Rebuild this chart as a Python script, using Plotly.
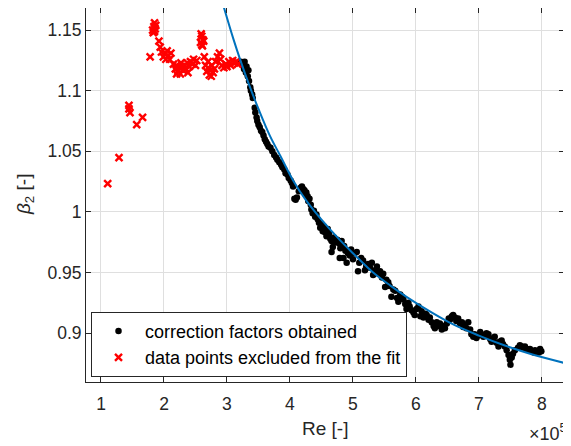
import plotly.graph_objects as go

# ---------------- data (Re in units of 1e5) ----------------
re_fit_pts = [3.22, 3.25, 3.27, 3.28, 3.30, 3.31, 3.33, 3.34, 3.35, 3.37, 3.38, 3.40, 3.41, 3.44, 3.45,
              3.47, 3.48, 3.50, 3.52, 3.54, 3.56, 3.58, 3.60, 3.62, 3.64, 3.66, 3.69, 3.72, 3.75, 3.78,
              3.80, 3.83, 3.86, 3.88, 3.91, 3.93, 3.96, 3.98, 4.01, 4.03, 4.05, 4.07, 4.09, 4.11, 4.14,
              4.17, 4.19, 4.21, 4.23, 4.24, 4.26, 4.28, 4.29, 4.31, 4.33, 4.34, 4.36, 4.38, 4.40, 4.42,
              4.44, 4.46, 4.48, 4.50, 4.52, 4.54, 4.56, 4.58, 4.60, 4.62, 4.64, 4.66, 4.66, 4.68, 4.70,
              4.72, 4.75, 4.78, 4.79, 4.80, 4.82, 4.85, 4.86, 4.88, 4.90, 4.92, 4.95, 4.97, 5.00, 5.03,
              5.06, 5.08, 5.10, 5.13, 5.16, 5.19, 5.21, 5.24, 5.27, 5.30, 5.32, 5.35, 5.38, 5.41, 5.43,
              5.46, 5.48, 5.51, 5.53, 5.56, 5.58, 5.61, 5.64, 5.67, 5.70, 5.72, 5.75, 5.78, 5.80, 5.83,
              5.85, 5.88, 5.90, 5.93, 5.96, 5.98, 6.01, 6.04, 6.07, 6.09, 6.12, 6.15, 6.17, 6.20, 6.22,
              6.25, 6.28, 6.30, 6.33, 6.36, 6.38, 6.41, 6.44, 6.46, 6.49, 6.52, 6.54, 6.57, 6.59, 6.62,
              6.64, 6.67, 6.70, 6.73, 6.75, 6.78, 6.80, 6.83, 6.86, 6.88, 6.91, 6.93, 6.96, 6.99, 7.02,
              7.04, 7.07, 7.10, 7.12, 7.15, 7.18, 7.20, 7.23, 7.25, 7.28, 7.31, 7.33, 7.36, 7.38, 7.41,
              7.44, 7.47, 7.49, 7.50, 7.52, 7.54, 7.57, 7.62, 7.65, 7.68, 7.71, 7.73, 7.76, 7.79, 7.81,
              7.84, 7.87, 7.89, 7.92, 7.95, 7.97, 7.99]
beta_fit_pts = [1.124, 1.122, 1.118, 1.124, 1.115, 1.120, 1.112, 1.117, 1.108, 1.103, 1.100, 1.097, 1.094, 1.086, 1.082,
                1.078, 1.075, 1.072, 1.070, 1.067, 1.066, 1.063, 1.060, 1.058, 1.056, 1.054, 1.053, 1.050, 1.047, 1.045,
                1.043, 1.041, 1.039, 1.037, 1.035, 1.032, 1.031, 1.028, 1.026, 1.024, 1.021, 1.011, 1.010, 1.012, 1.017,
                1.020, 1.021, 1.019, 1.018, 1.015, 1.016, 1.013, 1.009, 1.011, 1.006, 1.002, 0.999, 1.001, 0.996, 0.998,
                0.994, 0.991, 0.987, 0.990, 0.984, 0.988, 0.983, 0.980, 0.986, 0.982, 0.978, 0.976, 0.967, 0.971, 0.979,
                0.975, 0.977, 0.974, 0.962, 0.970, 0.976, 0.962, 0.972, 0.968, 0.958, 0.966, 0.964, 0.969, 0.961, 0.966,
                0.967, 0.951, 0.958, 0.962, 0.960, 0.952, 0.955, 0.957, 0.954, 0.958, 0.948, 0.952, 0.955, 0.949, 0.951,
                0.946, 0.949, 0.938, 0.944, 0.942, 0.939, 0.930, 0.936, 0.935, 0.929, 0.926, 0.932, 0.930, 0.928, 0.924,
                0.920, 0.925, 0.922, 0.919, 0.917, 0.915, 0.920, 0.922, 0.914, 0.918, 0.913, 0.916, 0.915, 0.911, 0.913,
                0.909, 0.906, 0.904, 0.909, 0.906, 0.908, 0.903, 0.906, 0.904, 0.908, 0.912, 0.911, 0.914, 0.915, 0.913,
                0.910, 0.912, 0.908, 0.909, 0.905, 0.907, 0.904, 0.909, 0.903, 0.899, 0.897, 0.899, 0.896, 0.898, 0.901,
                0.899, 0.897, 0.898, 0.900, 0.899, 0.895, 0.893, 0.896, 0.897, 0.892, 0.889, 0.893, 0.894, 0.891, 0.889,
                0.886, 0.882, 0.878, 0.874, 0.880, 0.883, 0.886, 0.888, 0.890, 0.889, 0.888, 0.889, 0.887, 0.886, 0.887,
                0.885, 0.884, 0.886, 0.885, 0.884, 0.887, 0.885]

re_excluded = [1.106, 1.286, 1.444, 1.444, 1.46, 1.567, 1.66, 1.78,
               1.82, 1.84, 1.85, 1.86, 1.83, 1.87, 1.85,
               1.92, 1.94, 1.96, 1.99, 2.02, 2.05, 2.07, 2.09, 2.11, 2.03,
               2.15, 2.18, 2.20, 2.22, 2.24, 2.26, 2.28, 2.30, 2.33, 2.35, 2.37, 2.40, 2.42, 2.45, 2.47, 2.50,
               2.52, 2.27, 2.20, 2.38,
               2.58, 2.60, 2.61, 2.62, 2.59, 2.60, 2.63,
               2.64, 2.66, 2.68, 2.70, 2.72, 2.74, 2.76, 2.78, 2.80, 2.82, 2.85, 2.88, 2.90, 2.92, 2.95, 2.98,
               3.00, 3.03, 3.06, 3.09, 3.12, 3.15, 3.17, 2.70, 2.75]
beta_excluded = [1.0234, 1.0448, 1.088, 1.085, 1.082, 1.072, 1.078, 1.128,
                 1.150, 1.153, 1.156, 1.151, 1.148, 1.154, 1.149,
                 1.141, 1.136, 1.132, 1.128, 1.131, 1.133, 1.129, 1.126, 1.131, 1.126,
                 1.122, 1.118, 1.121, 1.116, 1.119, 1.114, 1.120, 1.117, 1.121, 1.118, 1.123, 1.120, 1.124, 1.122,
                 1.126, 1.121, 1.125, 1.123, 1.114, 1.115,
                 1.140, 1.145, 1.137, 1.142, 1.147, 1.138, 1.141,
                 1.128, 1.121, 1.116, 1.119, 1.113, 1.117, 1.121, 1.115, 1.118, 1.124, 1.128, 1.131, 1.126, 1.121,
                 1.119, 1.122, 1.120, 1.124, 1.121, 1.125, 1.123, 1.124, 1.122, 1.124, 1.112]

# fitted curve
re_curve = [2.95, 3.10, 3.22, 3.35, 3.50, 3.68, 3.85, 4.05, 4.25, 4.48, 4.79, 5.00, 5.32, 5.60, 5.85,
            6.22, 6.60, 7.00, 7.40, 7.81, 8.35]
beta_curve = [1.169, 1.143, 1.124, 1.105, 1.085, 1.063, 1.046, 1.026, 1.010, 0.995, 0.977, 0.966, 0.950,
              0.939, 0.930, 0.918, 0.907, 0.898, 0.890, 0.883, 0.8755]

x_tick_vals = [1, 2, 3, 4, 5, 6, 7, 8]
x_tick_text = ["1", "2", "3", "4", "5", "6", "7", "8"]
y_tick_vals = [0.9, 0.95, 1.0, 1.05, 1.1, 1.15]
y_tick_text = ["0.9", "0.95", "1", "1.05", "1.1", "1.15"]

legend_names = ["correction factors obtained", "data points excluded from the fit"]

# ---------------- figure ----------------
FONT = "Liberation Sans, Arial, Helvetica, sans-serif"
INK = "#262626"

fig = go.Figure()
fig.add_trace(go.Scatter(
    x=re_fit_pts, y=beta_fit_pts, mode="markers", name=legend_names[0],
    marker=dict(symbol="circle", size=6.5, color="black", line=dict(width=0)),
))
fig.add_trace(go.Scatter(
    x=re_excluded, y=beta_excluded, mode="markers", name=legend_names[1],
    marker=dict(symbol="x-thin", size=7, color="#ff0000", line=dict(width=2.4, color="#ff0000")),
))
fig.add_trace(go.Scatter(
    x=re_curve, y=beta_curve, mode="lines", showlegend=False,
    line=dict(color="#0072BD", width=2, shape="spline", smoothing=1.0),
))

axis_common = dict(
    automargin=False,
    showline=True, linecolor=INK, linewidth=1, mirror="allticks",
    ticks="inside", ticklen=5, tickcolor=INK, tickwidth=1,
    showgrid=True, gridcolor="#dfdfdf", gridwidth=1, zeroline=False,
    tickfont=dict(family=FONT, size=17.5, color=INK),
)

fig.update_xaxes(range=[0.762, 8.35], tickvals=x_tick_vals, ticktext=x_tick_text,
                 ticklabelstandoff=6, **axis_common)
fig.update_yaxes(range=[0.8597, 1.1683], tickvals=y_tick_vals, ticktext=y_tick_text, **axis_common)

# page body has an 8px default margin, so the figure is 8px smaller than the window
fig.update_layout(
    width=563, height=438,
    margin=dict(l=78, r=7, t=0, b=64, autoexpand=False),
    paper_bgcolor="white", plot_bgcolor="white",
    font=dict(family=FONT, color=INK),
    showlegend=True,
    legend=dict(
        x=0.0105, y=0.014, xanchor="left", yanchor="bottom",
        bgcolor="white", bordercolor=INK, borderwidth=1,
        font=dict(family=FONT, size=18, color="black"),
        itemwidth=43, tracegroupgap=0,
    ),
    annotations=[
        dict(text="Re [-]", xref="paper", yref="paper", x=0.5, y=-0.123,
             xanchor="center", yanchor="middle", showarrow=False,
             font=dict(family=FONT, size=19, color=INK)),
        dict(text="<i>β</i><sub>2</sub> [-]", xref="paper", yref="paper", x=-0.1276, y=0.5,
             xanchor="center", yanchor="middle", showarrow=False, textangle=-90,
             font=dict(family=FONT, size=19, color=INK)),
        dict(text="×10<sup>5</sup>", xref="paper", yref="paper", x=1.0105, y=-0.1337,
             xanchor="right", yanchor="middle", showarrow=False,
             font=dict(family=FONT, size=18, color=INK)),
    ],
)

fig.write_html("out.html")
